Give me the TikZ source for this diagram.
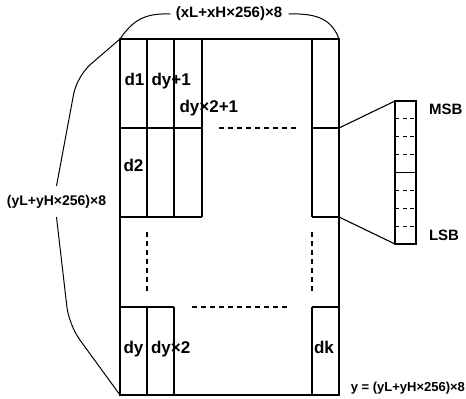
\documentclass[tikz,border=0pt]{standalone}
\usepackage{fontspec}
\setmainfont{Liberation Sans}
\begin{document}
\begin{tikzpicture}[x=1pt,y=-1pt,line width=1.1pt,
  cell/.style={font=\bfseries\fontsize{17}{20}\selectfont,inner sep=0pt,anchor=base west},
  dimlbl/.style={font=\bfseries\fontsize{15}{18}\selectfont,inner sep=0pt},
  bitlbl/.style={font=\bfseries\fontsize{15}{18}\selectfont,inner sep=0pt,anchor=west},
  dsh/.style={dash pattern=on 5pt off 4pt},
  bitdsh/.style={line width=1pt,dash pattern=on 4pt off 3.5pt}]
\useasboundingbox (0,0) rectangle (466,399);
% outer memory block
\draw (120,39) rectangle (339,395);
% top-left cells
\draw (147,39) -- (147,217);
\draw (174,39) -- (174,217);
\draw (202,39) -- (202,217);
\draw (120,128) -- (202,128);
\draw (120,217) -- (202,217);
% top-right column
\draw (312,39) -- (312,217);
\draw (312,128) -- (339,128);
\draw (312,217) -- (339,217);
\draw[dsh] (219,128) -- (297,128);
% vertical ellipsis
\draw[dsh] (147,232) -- (147,292);
\draw[dsh] (312,232) -- (312,292);
% bottom row
\draw (120,307) -- (174,307);
\draw (147,307) -- (147,395);
\draw (174,307) -- (174,395);
\draw (312,307) -- (339,307);
\draw (312,307) -- (312,395);
\draw[dsh] (192,307) -- (288,307);
% cell labels
\node[cell] (d1) at (124,85) {d1};
\node[cell] (dy1) at (151,85) {dy+1};
\node[cell] (dy21) at (179,112.5) {dy×2+1};
\node[cell] (d2) at (123,171.5) {d2};
\node[cell] (dy) at (123,353) {dy};
\node[cell] (dy2) at (150.5,353) {dy×2};
\node[cell] (dk) at (313.5,353) {dk};
% bit box
\coordinate (ct) at (339,128);
\coordinate (cb) at (339,217);
\coordinate (bt) at (395,101);
\coordinate (bb) at (395,244);
\draw (395,101) rectangle (416,244);
\draw (395,172.5) -- (416,172.5);
\foreach \yy in {118.9,136.75,154.6,190.4,208.25,226.1}
  \draw[bitdsh] (395,\yy) -- (416,\yy);
\draw (ct) -- (bt);
\draw (cb) -- (bb);
\node[bitlbl] (msb) at (428.5,109) {MSB};
\node[bitlbl] (lsb) at (428.5,235) {LSB};
% dimension labels
\node[dimlbl] (xdim) at (229,14) {(xL+xH×256)×8};
\node[dimlbl,font=\bfseries\fontsize{14}{17}\selectfont] (ydim) at (56.5,202) {(yL+yH×256)×8};
\node[dimlbl,font=\bfseries\fontsize{13}{16}\selectfont,anchor=east] (yeq) at (465.5,388) {y = (yL+yH×256)×8};
% braces
\draw[line width=1pt] (120,39) .. controls (133,20) and (145,13) .. ([xshift=-5pt]xdim.west);
\draw[line width=1pt] ([xshift=6pt]xdim.east) .. controls (318,13) and (332,20) .. (339,39);
\draw[line width=1pt,rounded corners=18pt] (120,39) -- (77,76) -- ([yshift=9pt]ydim.north);
\draw[line width=1pt,rounded corners=18pt] ([yshift=-8pt]ydim.south) -- (69,325) -- (120,395);
\end{tikzpicture}
\end{document}
